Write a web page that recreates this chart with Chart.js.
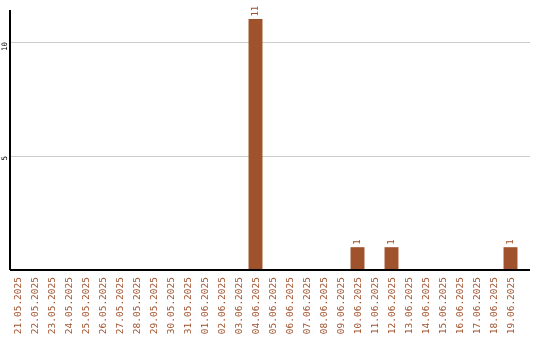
<!DOCTYPE html>
<html>
<head>
<meta charset="utf-8">
<script src="https://cdn.jsdelivr.net/npm/chart.js@4/dist/chart.umd.min.js"></script>
<style>
  html, body { margin: 0; padding: 0; background: #fff; }
  #wrap { width: 540px; height: 340px; }
</style>
</head>
<body>
<div id="wrap"><canvas id="c" width="540" height="340"></canvas></div>
<script>
// Daily counts, 21.05.2025 – 19.06.2025
const dates = [
  '21.05.2025','22.05.2025','23.05.2025','24.05.2025','25.05.2025',
  '26.05.2025','27.05.2025','28.05.2025','29.05.2025','30.05.2025',
  '31.05.2025','01.06.2025','02.06.2025','03.06.2025','04.06.2025',
  '05.06.2025','06.06.2025','07.06.2025','08.06.2025','09.06.2025',
  '10.06.2025','11.06.2025','12.06.2025','13.06.2025','14.06.2025',
  '15.06.2025','16.06.2025','17.06.2025','18.06.2025','19.06.2025'
];
const counts = [
  0,0,0,0,0, 0,0,0,0,0,
  0,0,0,0,11, 0,0,0,0,0,
  1,0,1,0,0, 0,0,0,0,1
];
const yTickLabels = [5, 10];

const BROWN = '#a0522d';
const MONO = '"DejaVu Sans Mono", "Liberation Mono", monospace';
const Y_FONT = 7.5;

// Horizontal grid lines and the axis lines, running out to the right edge
const frame = {
  id: 'frame',
  beforeDatasetsDraw(chart) {
    const { ctx, chartArea, scales } = chart;
    const right = chart.width - 10;
    ctx.save();
    ctx.strokeStyle = '#cccccc';
    ctx.lineWidth = 1;
    yTickLabels.forEach(v => {
      const y = Math.round(scales.y.getPixelForValue(v)) + 0.5;
      ctx.beginPath();
      ctx.moveTo(chartArea.left, y);
      ctx.lineTo(right, y);
      ctx.stroke();
    });
    ctx.restore();
  },
  afterDatasetsDraw(chart) {
    const { ctx, chartArea, scales } = chart;
    const right = chart.width - 10;
    ctx.save();
    ctx.strokeStyle = '#000';
    ctx.lineWidth = 2;
    const y0 = Math.round(scales.y.getPixelForValue(0));
    const x0 = Math.round(chartArea.left) + 1;
    ctx.beginPath();
    ctx.moveTo(x0, y0);
    ctx.lineTo(right, y0);
    ctx.moveTo(x0, y0);
    ctx.lineTo(x0, chartArea.top);
    ctx.stroke();

    // value labels above non-empty bars
    const meta = chart.getDatasetMeta(0);
    ctx.fillStyle = BROWN;
    ctx.font = '9px ' + MONO;
    ctx.textAlign = 'left';
    ctx.textBaseline = 'middle';
    meta.data.forEach((bar, i) => {
      const v = counts[i];
      if (!v) return;
      ctx.save();
      ctx.translate(bar.x, bar.y - 2.5);
      ctx.rotate(-Math.PI / 2);
      ctx.fillText(String(v), 0, 0);
      ctx.restore();
    });
    ctx.restore();
  }
};

new Chart(document.getElementById('c'), {
  type: 'bar',
  data: {
    labels: dates,
    datasets: [{
      data: counts,
      backgroundColor: BROWN,
      borderWidth: 0,
      barPercentage: 0.82,
      categoryPercentage: 1.0
    }]
  },
  options: {
    responsive: false,
    animation: false,
    devicePixelRatio: 1,
    layout: { padding: { top: 10, right: 21, left: 0, bottom: 0 } },
    plugins: { legend: { display: false }, tooltip: { enabled: false } },
    scales: {
      x: {
        offset: true,
        grid: { display: false },
        border: { display: false },
        ticks: {
          color: BROWN,
          font: { family: MONO, size: 9.5 },
          minRotation: 90,
          maxRotation: 90,
          autoSkip: false,
          padding: -1,
          labelOffset: 1
        },
        afterFit(s) { s.height = 70; }
      },
      y: {
        min: 0,
        max: 11.4,
        grid: { display: false },
        border: { display: false },
        ticks: {
          stepSize: 5,
          color: '#000',
          font: { family: MONO, size: Y_FONT },
          minRotation: 90,
          maxRotation: 90,
          padding: -4.5,
          labelOffset: ctx => (ctx && ctx.tick)
            ? -String(ctx.tick.value).length * Y_FONT * 0.602 / 2 - 2
            : 0,
          callback: v => (yTickLabels.includes(v) ? String(v) : '')
        },
        afterFit(s) { s.width = 9; }
      }
    }
  },
  plugins: [frame]
});
</script>
</body>
</html>
